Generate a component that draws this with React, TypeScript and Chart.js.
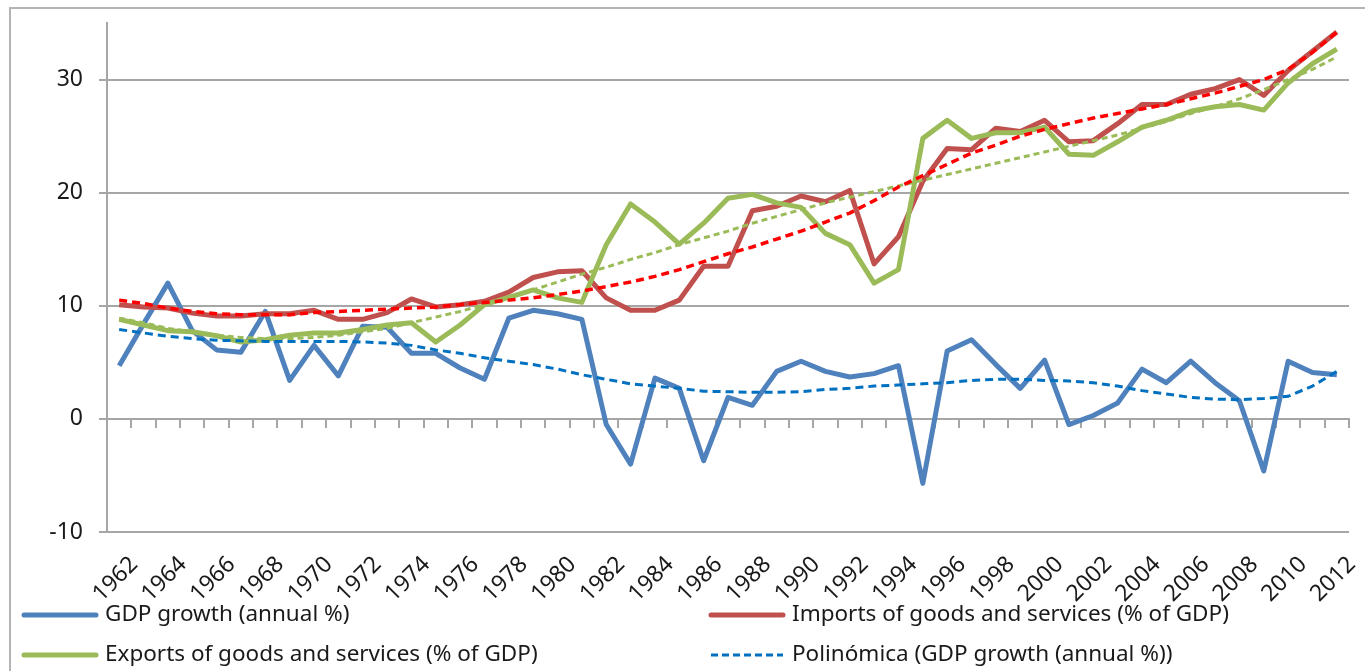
import React, { useEffect, useRef } from 'react';
import { Chart, registerables } from 'chart.js';

Chart.register(...registerables);

const years = [
  '1962', '1963', '1964', '1965', '1966', '1967', '1968', '1969', '1970', '1971',
  '1972', '1973', '1974', '1975', '1976', '1977', '1978', '1979', '1980', '1981',
  '1982', '1983', '1984', '1985', '1986', '1987', '1988', '1989', '1990', '1991',
  '1992', '1993', '1994', '1995', '1996', '1997', '1998', '1999', '2000', '2001',
  '2002', '2003', '2004', '2005', '2006', '2007', '2008', '2009', '2010', '2011', '2012',
];

const gdpGrowth = [
  4.7, 8.4, 12.0, 7.8, 6.1, 5.9, 9.5, 3.4, 6.5, 3.8,
  8.2, 8.1, 5.8, 5.8, 4.5, 3.5, 8.9, 9.6, 9.3, 8.8,
  -0.5, -4.0, 3.6, 2.7, -3.7, 1.9, 1.2, 4.2, 5.1, 4.2,
  3.7, 4.0, 4.7, -5.7, 6.0, 7.0, 4.8, 2.7, 5.2, -0.5,
  0.3, 1.4, 4.4, 3.2, 5.1, 3.2, 1.6, -4.6, 5.1, 4.1, 3.9,
];

const importsPct = [
  10.1, 9.9, 9.8, 9.35, 9.1, 9.1, 9.3, 9.3, 9.6, 8.8,
  8.8, 9.4, 10.6, 9.9, 10.1, 10.4, 11.2, 12.5, 13.0, 13.1,
  10.7, 9.6, 9.6, 10.5, 13.5, 13.5, 18.4, 18.8, 19.7, 19.2,
  20.2, 13.7, 16.1, 21.0, 23.9, 23.8, 25.7, 25.4, 26.4, 24.5,
  24.6, 26.1, 27.8, 27.8, 28.7, 29.2, 30.0, 28.6, 30.8, 32.5, 34.2,
];

const exportsPct = [
  8.8, 8.3, 7.8, 7.7, 7.35, 6.8, 7.0, 7.4, 7.6, 7.6,
  7.9, 8.3, 8.5, 6.8, 8.3, 10.1, 10.75, 11.4, 10.7, 10.3,
  15.4, 19.0, 17.4, 15.45, 17.3, 19.5, 19.85, 19.1, 18.7, 16.4,
  15.4, 12.0, 13.2, 24.8, 26.4, 24.8, 25.3, 25.3, 25.8, 23.4,
  23.3, 24.5, 25.8, 26.4, 27.2, 27.6, 27.8, 27.3, 29.7, 31.4, 32.7,
];

const gdpTrend = [
  7.9, 7.6, 7.3, 7.1, 6.95, 6.9, 6.85, 6.85, 6.85, 6.85,
  6.8, 6.7, 6.5, 6.1, 5.8, 5.4, 5.1, 4.8, 4.4, 3.9,
  3.5, 3.1, 2.9, 2.7, 2.45, 2.4, 2.35, 2.35, 2.4, 2.6,
  2.7, 2.9, 3.0, 3.1, 3.2, 3.4, 3.5, 3.5, 3.4, 3.35,
  3.2, 2.9, 2.5, 2.2, 1.9, 1.75, 1.7, 1.8, 2.0, 2.9, 4.2,
];

const importsTrend = [
  10.5, 10.2, 9.8, 9.5, 9.3, 9.2, 9.2, 9.2, 9.4, 9.5,
  9.6, 9.7, 9.8, 9.9, 10.1, 10.3, 10.5, 10.7, 11.0, 11.3,
  11.7, 12.1, 12.6, 13.2, 13.9, 14.6, 15.2, 15.9, 16.6, 17.4,
  18.2, 19.3, 20.5, 21.5, 22.5, 23.5, 24.2, 25.0, 25.6, 26.1,
  26.6, 27.0, 27.4, 27.8, 28.3, 28.8, 29.4, 30.0, 30.9, 32.4, 34.2,
];

const exportsTrend = [
  8.9, 8.5, 8.0, 7.7, 7.4, 7.2, 7.1, 7.1, 7.2, 7.4,
  7.7, 8.0, 8.5, 9.0, 9.5, 10.1, 10.7, 11.4, 12.1, 12.8,
  13.4, 14.1, 14.7, 15.4, 16.0, 16.6, 17.3, 17.9, 18.5, 19.1,
  19.6, 20.1, 20.6, 21.1, 21.6, 22.1, 22.6, 23.1, 23.6, 24.1,
  24.6, 25.1, 25.7, 26.3, 27.0, 27.6, 28.3, 29.1, 30.0, 30.9, 32.0,
];

const yMin = -10;
const yMax = 35;
const yStep = 10;

const legendLabels = [
  'GDP growth (annual %)',
  'Imports of goods and services (% of GDP)',
  'Exports of goods and services (% of GDP)',
  'Polinómica (GDP growth (annual %))',
];

const FONT = '"Noto Sans", sans-serif';
const GRID = '#A6A6A6';
const C_GDP = '#4F81BD';
const C_IMP = '#C0504D';
const C_EXP = '#9BBB59';
const C_TREND_GDP = '#0070C0';
const C_TREND_IMP = '#FF0000';

const framePlugin = {
  id: 'frame',
  beforeDraw(chart: any) {
    const ctx = chart.ctx;
    ctx.save();
    ctx.strokeStyle = '#B4B4B4';
    ctx.lineWidth = 2;
    ctx.beginPath();
    ctx.moveTo(10, chart.height);
    ctx.lineTo(10, 8);
    ctx.lineTo(chart.width, 8);
    ctx.stroke();
    ctx.restore();
  },
};

const legendPlugin = {
  id: 'customLegend',
  afterDraw(chart: any) {
    const ctx = chart.ctx;
    const items = [
      { text: legendLabels[0], color: C_GDP, dash: [] as number[], w: 5, x: 24, y: 615 },
      { text: legendLabels[1], color: C_IMP, dash: [] as number[], w: 5, x: 711, y: 615 },
      { text: legendLabels[2], color: C_EXP, dash: [] as number[], w: 5, x: 24, y: 655 },
      { text: legendLabels[3], color: C_TREND_GDP, dash: [7, 4], w: 3, x: 711, y: 655 },
    ];
    ctx.save();
    items.forEach((it) => {
      ctx.beginPath();
      ctx.setLineDash(it.dash);
      ctx.strokeStyle = it.color;
      ctx.lineWidth = it.w;
      ctx.lineCap = it.dash.length ? 'butt' : 'round';
      ctx.moveTo(it.x, it.y);
      ctx.lineTo(it.x + 72, it.y);
      ctx.stroke();
      ctx.setLineDash([]);
      ctx.fillStyle = '#1a1a1a';
      ctx.font = `22.5px ${FONT}`;
      ctx.textBaseline = 'middle';
      ctx.textAlign = 'left';
      ctx.fillText(it.text, it.x + 81, it.y);
    });
    ctx.restore();
  },
};

export default function App() {
  const canvasRef = useRef<HTMLCanvasElement | null>(null);

  useEffect(() => {
    if (!canvasRef.current) return;
    const chart = new Chart(canvasRef.current, {
      type: 'line',
      data: {
        labels: years,
        datasets: [
          {
            label: 'Polinómica (GDP growth (annual %))',
            data: gdpTrend,
            borderColor: C_TREND_GDP,
            borderWidth: 3,
            borderDash: [8, 5],
            pointRadius: 0,
            tension: 0,
          },
          {
            label: 'Polinómica (Imports)',
            data: importsTrend,
            borderColor: C_TREND_IMP,
            borderWidth: 3.5,
            borderDash: [8, 5],
            pointRadius: 0,
            tension: 0,
          },
          {
            label: 'Polinómica (Exports)',
            data: exportsTrend,
            borderColor: C_EXP,
            borderWidth: 3,
            borderDash: [6, 4],
            pointRadius: 0,
            tension: 0,
          },
          {
            label: legendLabels[2],
            data: exportsPct,
            borderColor: C_EXP,
            borderWidth: 5,
            pointRadius: 0,
            tension: 0,
            borderJoinStyle: 'round',
          },
          {
            label: legendLabels[1],
            data: importsPct,
            borderColor: C_IMP,
            borderWidth: 5,
            pointRadius: 0,
            tension: 0,
            borderJoinStyle: 'round',
          },
          {
            label: legendLabels[0],
            data: gdpGrowth,
            borderColor: C_GDP,
            borderWidth: 5,
            pointRadius: 0,
            tension: 0,
            borderJoinStyle: 'round',
          },
        ],
      },
      options: {
        animation: false,
        responsive: true,
        maintainAspectRatio: false,
        layout: { padding: { left: 0, top: 23, right: 16, bottom: 0 } },
        plugins: {
          legend: { display: false },
          tooltip: { enabled: false },
        },
        scales: {
          x: {
            type: 'category',
            position: 'bottom',
            offset: true,
            grid: { display: false, drawTicks: false },
            border: { display: false },
            ticks: {
              autoSkip: false,
              maxRotation: 45,
              minRotation: 45,
              padding: 19,
              labelOffset: 15,
              color: '#1a1a1a',
              font: { family: FONT, size: 23 },
              callback: (_v: any, i: number) => (i % 2 === 0 ? years[i] : ''),
            },
            afterFit: (s: any) => {
              s.height = 139;
              s.paddingLeft = 0;
              s.paddingRight = 0;
            },
          },
          x0: {
            type: 'category',
            axis: 'x',
            position: { y: 0 },
            offset: true,
            grid: {
              display: true,
              drawOnChartArea: false,
              drawTicks: true,
              tickLength: 8,
              offset: true,
              color: GRID,
              lineWidth: 2,
            },
            border: { display: true, color: GRID, width: 2 },
            ticks: { display: false },
          },
          y: {
            type: 'linear',
            min: yMin,
            max: yMax,
            grid: { color: GRID, lineWidth: 2, tickLength: 8, drawTicks: true },
            border: { display: true, color: GRID, width: 2 },
            ticks: {
              stepSize: yStep,
              includeBounds: false,
              padding: 16,
              color: '#1a1a1a',
              font: { family: FONT, size: 23 },
            },
            afterFit: (s: any) => {
              s.width = 107;
              s.paddingTop = 0;
              s.paddingBottom = 0;
            },
          },
        },
      } as any,
      plugins: [framePlugin, legendPlugin],
    });
    return () => chart.destroy();
  }, []);

  return (
    <div style={{ position: 'fixed', left: 0, top: 0, width: 1365, height: 671, background: '#fff' }}>
      <canvas ref={canvasRef} />
    </div>
  );
}
